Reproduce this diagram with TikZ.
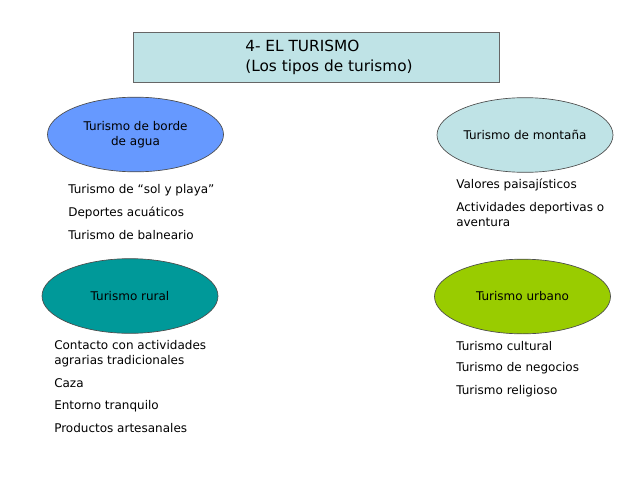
\documentclass[tikz,border=0pt]{standalone}
\usepackage{fontspec}
\setmainfont{DejaVu Sans}
\usetikzlibrary{shapes.geometric}
\definecolor{titlefill}{HTML}{BFE3E6}
\definecolor{bluefill}{HTML}{6699FF}
\definecolor{tealfill}{HTML}{009999}
\definecolor{greenfill}{HTML}{99CC00}
\begin{document}
\begin{tikzpicture}[x=0.75pt,y=-0.75pt,
  oval/.style={ellipse,draw=black!70,line width=0.5pt,minimum width=132pt,minimum height=56pt,inner sep=0pt,font=\fontsize{9}{11}\selectfont,align=center},
  item/.style={anchor=west,inner sep=0pt,font=\fontsize{9}{11.2}\selectfont,align=left}]
\useasboundingbox (0,0) rectangle (638,478);
\node[draw=black!60,fill=titlefill,line width=0.6pt,minimum width=275pt,minimum height=38pt,inner sep=0pt] (title) at (316.5,57.5) {};
\node[anchor=west,inner sep=0pt,font=\fontsize{11.5}{15}\selectfont,align=left] (titletext) at (245,57) {4- EL TURISMO\\(Los tipos de turismo)};
\node[oval,fill=bluefill] (agua) at (135.5,134.5) {Turismo de borde\\de agua};
\node[oval,fill=titlefill] (montana) at (525,135) {Turismo de montaña};
\node[oval,fill=tealfill] (rural) at (130,296) {Turismo rural};
\node[oval,fill=greenfill] (urbano) at (522.5,296.5) {Turismo urbano};
% lists
\node[item] (a1) at (68,190) {Turismo de “sol y playa”};
\node[item] (a2) at (68,213) {Deportes acuáticos};
\node[item] (a3) at (68,235) {Turismo de balneario};
\node[item] (m1) at (456,185) {Valores paisajísticos};
\node[item] (m2) at (456,214.5) {Actividades deportivas o\\aventura};
\node[item] (r1) at (54,353.5) {Contacto con actividades\\agrarias tradicionales};
\node[item] (r2) at (54,383) {Caza};
\node[item] (r3) at (54,406) {Entorno tranquilo};
\node[item] (r4) at (54,428) {Productos artesanales};
\node[item] (u1) at (456,346) {Turismo cultural};
\node[item] (u2) at (456,368) {Turismo de negocios};
\node[item] (u3) at (456,391) {Turismo religioso};
\end{tikzpicture}
\end{document}
